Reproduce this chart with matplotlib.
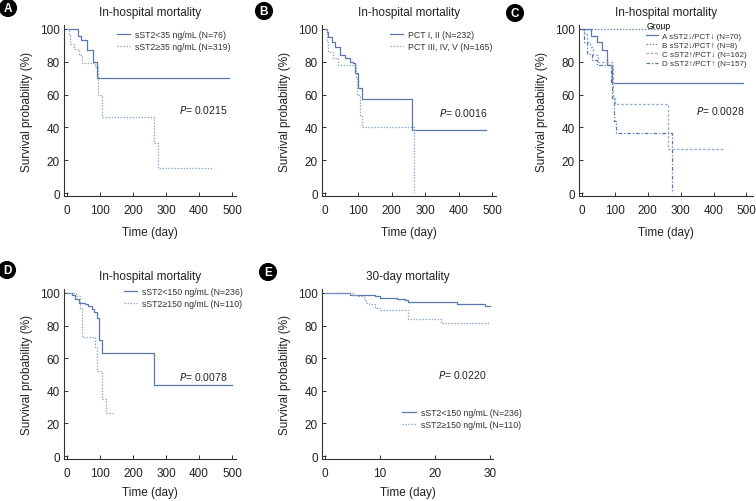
import matplotlib
matplotlib.use("Agg")
import matplotlib.pyplot as plt

plt.rcParams['font.family'] = ['Liberation Sans', 'DejaVu Sans']

# colours / styles
c_dark = '#5878aa'
c_light = '#8fa9cf'

# ---- panel A ----
a_lo_t = [0, 32, 41, 61, 78, 92, 492]
a_lo_s = [100, 96, 93, 87, 80, 70, 70]
a_hi_t = [0, 5, 10, 20, 35, 45, 85, 95, 105, 265, 275, 439]
a_hi_s = [100, 97, 91, 88, 84, 79, 77, 60, 46.5, 30.5, 15.2, 15.2]

# ---- panel B ----
b_lo_t = [0, 5, 10, 20, 30, 46, 60, 75, 83, 91, 100, 110, 261, 483]
b_lo_s = [100, 98, 95, 92, 89, 84, 82, 80, 79, 73, 64, 57.6, 38.5, 38.5]
b_hi_t = [0, 5, 10, 25, 38, 92, 95, 105, 110, 267]
b_hi_s = [100, 92, 86, 82, 78, 70, 59.7, 47, 40.4, 0]

# ---- panel C ----
c_a_t = [0, 28, 45, 60, 75, 90, 490]
c_a_s = [100, 96, 92, 87, 78, 67, 67]
c_b_t = [0, 245]
c_b_s = [100, 100]
c_c_t = [0, 5, 15, 25, 35, 50, 90, 93, 100, 263, 430]
c_c_s = [100, 97, 92, 89, 84, 80, 78, 58, 54.5, 27, 27]
c_d_t = [0, 5, 15, 30, 45, 88, 92, 97, 102, 273]
c_d_s = [100, 92, 85, 81, 78, 67, 58, 44, 36.3, 0]

# ---- panel D ----
d_lo_t = [0, 15, 25, 35, 55, 65, 75, 82, 90, 96, 105, 264, 500]
d_lo_s = [100, 99, 96, 94, 93, 92, 90, 88.5, 84.8, 71.3, 63.2, 43.3, 43.3]
d_hi_t = [0, 28, 38, 45, 85, 90, 107, 117, 139]
d_hi_s = [100, 98, 90.5, 72.7, 66.8, 52, 35.2, 26.3, 26.3]

# ---- panel E ----
e_lo_t = [0, 4.5, 6, 9, 10, 13, 14.5, 15, 24, 29, 30]
e_lo_s = [100, 99, 98.7, 98, 96.8, 96.3, 95.5, 94.4, 93, 91.8, 91.8]
e_hi_t = [0, 5, 6, 7, 7.5, 8, 9, 10, 15, 21, 30]
e_hi_s = [100, 99, 98, 96, 94, 93, 91, 89.3, 83.9, 81.7, 81.7]

W, H = 756, 502
fig = plt.figure(figsize=(W / 100, H / 100), dpi=100)

def px_axes(l, t, r, b):
    # axes box given in pixels from the top-left corner
    return fig.add_axes([l / W, 1 - b / H, (r - l) / W, (b - t) / H])

def setup(ax, letter, lxy, title, xlim, xticks, pval, ptx, pty, xlpad=7):
    ax.set_xlim(*xlim)
    ax.set_ylim(-1.8, 102.4)
    ax.set_xticks(xticks)
    ax.set_yticks([0, 20, 40, 60, 80, 100])
    for s in ['top', 'right']:
        ax.spines[s].set_visible(False)
    for s in ['left', 'bottom']:
        ax.spines[s].set_color('#333333')
        ax.spines[s].set_linewidth(0.8)
    ax.tick_params(direction='in', length=3, width=0.7, colors='#333333',
                   labelsize=8.5, labelcolor='#222222')
    ax.tick_params(axis='x', pad=6)
    ax.tick_params(axis='y', pad=3)
    ax.set_xlabel('Time (day)', fontsize=8.5, color='#222222', labelpad=xlpad)
    ax.set_ylabel('Survival probability (%)', fontsize=8.5, color='#222222', labelpad=5)
    ax.set_title(title, fontsize=8.5, color='#222222', pad=7)
    ax.text(ptx, pty, '$P$= ' + pval, transform=ax.transAxes, fontsize=7.5,
            color='#222222', ha='left', va='center')
    # panel letter in a black circle
    fig.text(lxy[0] / W, 1 - lxy[1] / H, letter, fontsize=8.5, fontweight='bold',
             color='white', ha='center', va='center',
             bbox=dict(boxstyle='circle,pad=0.2', fc='black', ec='black'))

def leg(ax, loc, anchor):
    ax.legend(loc=loc, bbox_to_anchor=anchor, frameon=False, fontsize=6.3,
              handlelength=1.5, handletextpad=0.6, labelspacing=0.35,
              labelcolor='#333333', borderaxespad=0)

dots = (0, (1.2, 1.2))

# A
ax = px_axes(64, 26, 236, 197)
ax.step(a_lo_t, a_lo_s, where='post', color=c_dark, lw=0.9, label='sST2<35 ng/mL (N=76)')
ax.step(a_hi_t, a_hi_s, where='post', color=c_light, lw=0.9, ls=dots,
        label='sST2\u226535 ng/mL (N=319)')
setup(ax, 'A', (8, 9), 'In-hospital mortality', (-9, 512), [0, 100, 200, 300, 400, 500],
      '0.0215', 0.67, 0.51)
leg(ax, 'upper right', (0.99, 0.99))

# B
ax = px_axes(322, 26, 496, 197)
ax.step(b_lo_t, b_lo_s, where='post', color=c_dark, lw=0.9, label='PCT I, II (N=232)')
ax.step(b_hi_t, b_hi_s, where='post', color=c_light, lw=0.9, ls=dots,
        label='PCT III, IV, V (N=165)')
setup(ax, 'B', (264, 12), 'In-hospital mortality', (-9, 512), [0, 100, 200, 300, 400, 500],
      '0.0016', 0.67, 0.49)
leg(ax, 'upper right', (1.0, 0.99))

# C
ax = px_axes(579, 26, 753, 197)
ax.step(c_a_t, c_a_s, where='post', color=c_dark, lw=0.9, label='A sST2\u2193/PCT\u2193 (N=70)')
ax.step(c_b_t, c_b_s, where='post', color=c_dark, lw=0.9, ls=(0, (1, 1.5)),
        label='B sST2\u2193/PCT\u2191 (N=8)')
ax.step(c_c_t, c_c_s, where='post', color=c_light, lw=0.9, ls=(0, (2, 1.5)),
        label='C sST2\u2191/PCT\u2193 (N=162)')
ax.step(c_d_t, c_d_s, where='post', color=c_dark, lw=0.9, ls=(0, (3, 1.5, 1, 1.5)),
        label='D sST2\u2191/PCT\u2191 (N=157)')
setup(ax, 'C', (515, 14), 'In-hospital mortality', (-9, 520), [0, 100, 200, 300, 400, 500],
      '0.0028', 0.67, 0.50)
lg = ax.legend(loc='upper right', bbox_to_anchor=(0.985, 1.04), frameon=False, fontsize=5.8,
               handlelength=1.5, handletextpad=0.5, labelspacing=0.2,
               labelcolor='#333333', title='Group', title_fontsize=6.2, borderaxespad=0)
lg._legend_box.align = 'left'

# D
ax = px_axes(64, 290, 236, 460)
ax.step(d_lo_t, d_lo_s, where='post', color=c_dark, lw=0.9, label='sST2<150 ng/mL (N=236)')
ax.step(d_hi_t, d_hi_s, where='post', color=c_light, lw=0.9, ls=dots,
        label='sST2\u2265150 ng/mL (N=110)')
setup(ax, 'D', (7, 271), 'In-hospital mortality', (-9, 512), [0, 100, 200, 300, 400, 500],
      '0.0078', 0.67, 0.49, xlpad=5)
leg(ax, 'upper right', (1.06, 1.03))

# E
ax = px_axes(322, 290, 493, 460)
ax.step(e_lo_t, e_lo_s, where='post', color=c_dark, lw=0.9, label='sST2<150 ng/mL (N=236)')
ax.step(e_hi_t, e_hi_s, where='post', color=c_light, lw=0.9, ls=dots,
        label='sST2\u2265150 ng/mL (N=110)')
setup(ax, 'E', (268, 273), '30-day mortality', (-0.55, 30.5), [0, 10, 20, 30],
      '0.0220', 0.68, 0.50, xlpad=5)
leg(ax, 'center left', (0.45, 0.24))

fig.savefig('out.png', dpi=100)
